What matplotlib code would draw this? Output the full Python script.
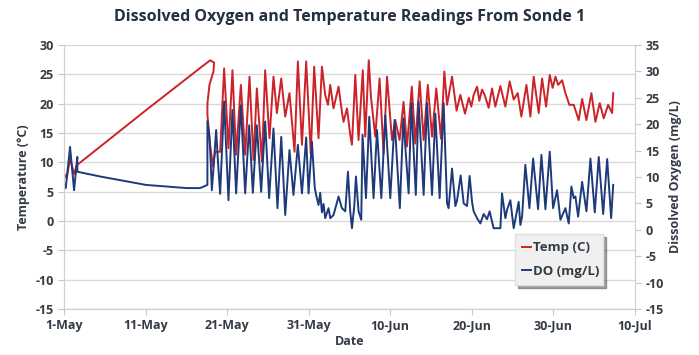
import datetime as dt
import matplotlib
matplotlib.use("Agg")
import matplotlib.pyplot as plt
import matplotlib.dates as mdates

# days since 1-May and readings
temp_days = [0.0, 0.33, 0.74, 1.23, 1.56, 10.06, 16.7, 17.91, 18.40, 18.32, 17.83, 17.58,
             17.58, 17.91, 18.25, 18.53, 19.14, 19.63, 20.16, 20.65, 21.10, 21.68, 22.21,
             22.74, 23.23, 23.64, 24.26, 24.66, 25.19, 25.68, 26.10, 26.63, 27.12, 27.64,
             28.26, 28.67, 29.17, 29.69, 30.25, 30.67, 31.20, 31.62, 32.02, 32.36, 32.64,
             33.04, 33.66, 34.07, 34.27, 34.69, 35.09, 35.30, 35.71, 36.11, 36.63, 36.93,
             37.36, 37.63, 38.16, 38.69, 39.18, 39.60, 40.21, 40.61, 41.14, 41.63, 42.05,
             42.64, 43.07, 43.60, 44.09, 44.60, 45.12, 45.64, 46.22, 46.63, 46.96, 47.57,
             48.13, 48.59, 49.16, 49.63, 49.94, 50.22, 50.64, 50.92, 51.25, 51.57, 52.06,
             52.48, 52.88, 53.50, 54.11, 54.64, 55.13, 55.62, 56.07, 56.69, 57.18, 57.58,
             58.20, 58.61, 59.10, 59.55, 59.91, 60.25, 60.58, 61.07, 61.47, 61.96, 62.49,
             63.10, 63.52, 64.05, 64.66, 65.15, 65.68, 66.17, 66.71, 67.20, 67.33]
temp_vals = [8.1, 7.3, 10.7, 8.0, 9.5, 18.9, 26.1, 27.4, 27.0, 25.5, 23.2, 20.0,
             18.1, 13.0, 9.3, 11.8, 11.8, 26.0, 12.4, 25.7, 11.3, 23.2, 11.3,
             24.6, 10.4, 22.6, 10.1, 25.7, 14.1, 24.6, 18.4, 24.3, 17.8, 21.8,
             11.8, 27.2, 13.0, 27.2, 11.5, 26.3, 14.1, 26.3, 21.5, 19.8, 23.2,
             19.2, 22.9, 18.6, 16.9, 19.2, 14.7, 13.0, 24.9, 13.8, 25.7, 14.4,
             27.4, 21.2, 14.4, 24.3, 11.5, 24.6, 13.8, 17.2, 13.8, 20.3, 12.7,
             22.9, 13.2, 23.8, 13.8, 23.2, 14.4, 22.6, 14.0, 25.5, 19.8, 24.6,
             18.8, 21.5, 18.3, 21.0, 19.5, 21.5, 22.9, 20.5, 22.4, 21.5, 19.3,
             22.6, 19.5, 23.0, 19.5, 23.8, 20.7, 21.8, 17.8, 23.2, 17.8, 24.6,
             18.4, 24.3, 19.5, 24.9, 22.7, 24.6, 23.2, 24.0, 21.8, 19.8, 19.8,
             17.2, 20.8, 17.2, 21.8, 16.9, 20.1, 17.5, 19.8, 18.4, 21.8]

do_days = [0.0, 0.21, 0.74, 1.23, 1.63, 1.63, 4.42, 10.06, 15.06, 16.69, 17.58, 17.58,
           17.83, 17.98, 18.12, 18.34, 18.65, 18.83, 19.14, 19.63, 20.16, 20.65, 21.10,
           21.68, 22.21, 22.70, 23.15, 23.64, 24.17, 24.66, 25.15, 25.68, 26.17, 26.63,
           27.12, 27.64, 28.13, 28.67, 29.17, 29.69, 29.98, 30.39, 30.74, 30.92, 31.20,
           31.41, 31.62, 31.82, 32.02, 32.43, 32.64, 33.04, 33.66, 34.07, 34.48, 34.81,
           35.09, 35.30, 35.58, 35.79, 36.11, 36.44, 36.60, 37.02, 37.42, 37.95, 38.37,
           38.90, 39.39, 40.00, 40.53, 41.17, 41.60, 42.25, 42.58, 43.13, 43.47, 44.09,
           44.50, 45.12, 45.52, 46.05, 46.54, 46.96, 47.15, 47.57, 47.98, 48.18, 48.63,
           49.00, 49.41, 49.73, 50.02, 50.22, 50.64, 51.04, 51.45, 51.86, 52.18, 52.48,
           52.67, 53.50, 53.70, 54.11, 54.32, 54.72, 55.13, 55.42, 55.74, 55.95, 56.16,
           56.56, 57.06, 57.51, 58.12, 58.53, 59.02, 59.55, 59.96, 60.45, 60.86, 61.47,
           61.88, 62.21, 62.49, 62.70, 63.03, 63.52, 64.05, 64.54, 65.07, 65.56, 66.10,
           66.59, 67.08, 67.33]
do_vals = [8.8, 7.9, 15.7, 7.5, 13.8, 11.0, 10.1, 8.5, 7.9, 7.9, 8.5, 20.6,
           17.6, 13.0, 7.5, 12.0, 18.9, 14.0, 6.8, 24.3, 5.6, 22.7, 6.9,
           23.6, 6.9, 19.8, 7.0, 19.8, 7.2, 20.5, 6.0, 19.2, 4.1, 17.6,
           2.8, 15.1, 6.6, 16.1, 6.9, 17.5, 6.9, 16.7, 8.0, 6.5, 4.7,
           7.0, 3.3, 4.9, 2.2, 4.1, 2.2, 2.8, 6.3, 4.1, 3.5, 11.0,
           3.5, 0.3, 4.4, 10.1, 3.5, 1.9, 18.0, 6.0, 21.4, 6.0, 18.9,
           6.0, 21.7, 6.0, 20.8, 4.1, 21.1, 6.9, 24.0, 6.6, 24.3, 6.6,
           24.0, 6.6, 22.0, 6.0, 24.0, 5.0, 4.1, 11.6, 4.5, 5.5, 10.3,
           5.0, 4.5, 10.2, 5.3, 3.5, 2.2, 1.2, 3.0, 2.0, 3.5, 1.5,
           0.3, 0.3, 6.9, 2.2, 3.8, 5.6, 0.3, 2.7, 5.3, 0.9, 2.5,
           12.3, 4.1, 13.5, 3.9, 14.2, 3.9, 14.8, 4.1, 7.5, 1.9, 4.1,
           1.2, 8.2, 6.0, 6.3, 2.5, 9.1, 3.5, 13.5, 3.3, 13.8, 3.0,
           13.4, 2.2, 8.5]

tick_days = [0, 10, 20, 30, 40, 50, 60, 70]

start = dt.datetime(2011, 5, 1)
temp_t = [start + dt.timedelta(days=d) for d in temp_days]
do_t = [start + dt.timedelta(days=d) for d in do_days]
ticks = [start + dt.timedelta(days=d) for d in tick_days]

txt = '#333b45'
plt.rcParams['font.family'] = ['Open Sans', 'DejaVu Sans']
plt.rcParams['axes.unicode_minus'] = False

fig = plt.figure(figsize=(6.99, 3.55), dpi=100)
ax = fig.add_axes([0.0916, 0.1296, 0.8168, 0.7436])
ax2 = ax.twinx()

l1, = ax.plot(temp_t, temp_vals, color='#cc2229', lw=1.4, solid_joinstyle='round')
l2, = ax2.plot(do_t, do_vals, color='#1f3a7a', lw=1.4, solid_joinstyle='round')

ax.set_ylim(-15, 30)
ax.set_yticks(range(-15, 31, 5))
ax2.set_ylim(-15, 35)
ax2.set_yticks(range(-15, 36, 5))
ax.set_xlim(ticks[0], ticks[-1])
ax.set_xticks(ticks)
ax.xaxis.set_major_formatter(mdates.DateFormatter('%-d-%b'))

ax.grid(axis='y', color='#d9d9d9', lw=1.0)
ax.set_axisbelow(True)
for a in (ax, ax2):
    a.spines['top'].set_visible(False)
    for s in ('left', 'right', 'bottom'):
        a.spines[s].set_color('#d0d0d0')
    a.tick_params(colors='#c8c8c8', length=4, labelcolor=txt, labelsize=9)
    for lab in a.get_xticklabels() + a.get_yticklabels():
        lab.set_fontweight('bold')

ax.set_ylabel('Temperature (°C)', fontsize=9, fontweight='bold', color=txt)
ax2.set_ylabel('Dissolved Oxygen (mg/L)', fontsize=9, fontweight='bold', color=txt)
ax.set_xlabel('Date', fontsize=9, fontweight='bold', color=txt, labelpad=2)
fig.suptitle('Dissolved Oxygen and Temperature Readings From Sonde 1',
             fontsize=11.5, fontweight='bold', color='#243040', y=0.975)

leg = ax2.legend([l1, l2], ['Temp (C)', 'DO (mg/L)'], loc='lower left',
                 bbox_to_anchor=(0.778, 0.066, 0.178, 0.204), mode='expand',
                 frameon=True, fancybox=False, shadow=True, handlelength=0.7,
                 handletextpad=0.15, labelspacing=0.8, borderpad=0.55,
                 prop={'weight': 'bold', 'size': 9.5})
leg.get_frame().set_facecolor('#f0f0f0')
leg.get_frame().set_edgecolor('#e0e0e0')
for t in leg.get_texts():
    t.set_color(txt)

fig.savefig('out.png', dpi=100)
